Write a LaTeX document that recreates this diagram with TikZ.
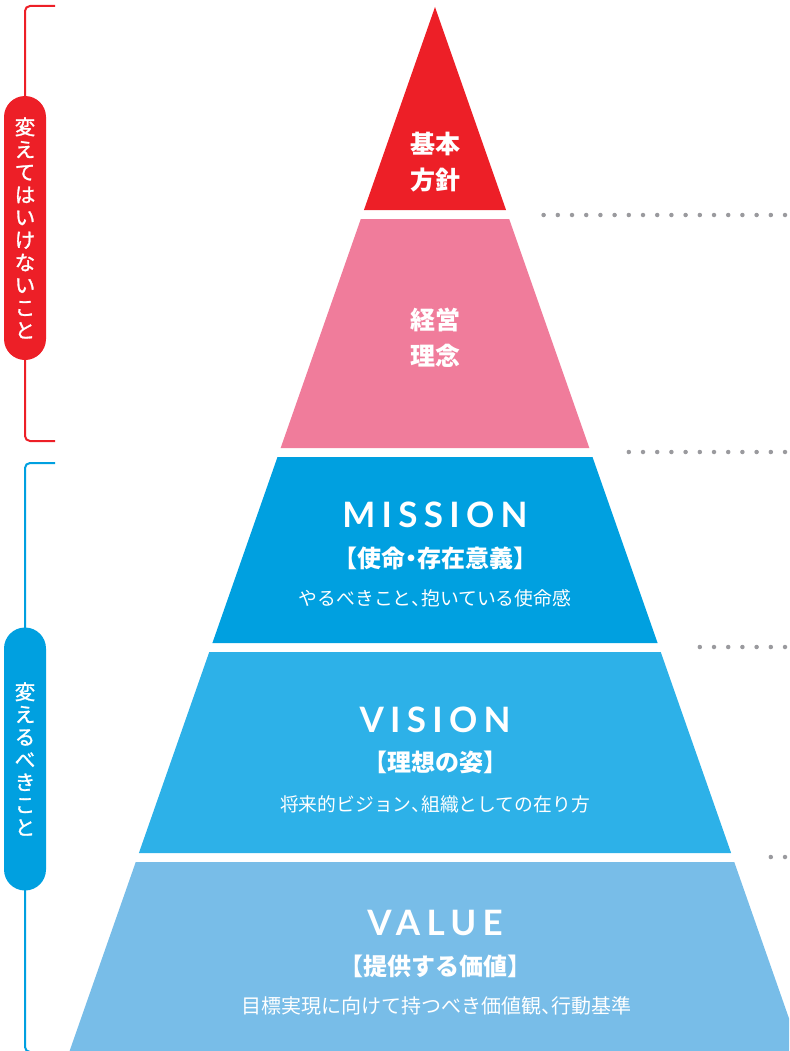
\documentclass[tikz,border=0pt]{standalone}
\usepackage{fontspec}
\newfontfamily\jpfont{Noto Sans CJK JP}
\newfontfamily\jpmidfont[FakeBold=1.3]{Noto Sans CJK JP}
\newfontfamily\capfont[LetterSpace=18]{Lato}
\newcommand\hw[1]{{\addfontfeature{RawFeature=+halt}#1}}
\usetikzlibrary{calc}
\definecolor{kihonred}{HTML}{ED1F27}
\definecolor{keieipink}{HTML}{F07C9B}
\definecolor{missionblue}{HTML}{00A0E0}
\definecolor{visionblue}{HTML}{2DB1E8}
\definecolor{valueblue}{HTML}{78BDE8}
\definecolor{dotgray}{HTML}{9A9A9E}
\tikzset{
  band/.style={fill=#1, draw=none},
  pill/.style={fill=#1, rounded corners=21pt, minimum width=42pt, inner sep=0pt,
    text=white, align=center, font=\jpmidfont\fontsize{20.5}{22.6}\selectfont},
  head/.style={text=white, align=center, inner sep=0pt,
    font=\jpfont\bfseries\fontsize{25}{36}\selectfont},
  title/.style={text=white, anchor=base, inner sep=0pt,
    font=\capfont\bfseries\fontsize{35}{35}\selectfont},
  kakko/.style={text=white, inner sep=0pt, font=\jpfont\bfseries\fontsize{24}{24}\selectfont},
  note/.style={text=white, inner sep=0pt, font=\jpfont\fontsize{18.8}{18.8}\selectfont},
  guide/.style={draw=dotgray, line width=4.5pt, line cap=round, dash pattern=on 0pt off 14.2pt},
  brace/.style={draw=#1, line width=2pt, rounded corners=5pt},
}
\begin{document}
\begin{tikzpicture}[x=1pt, y=-1pt]
\useasboundingbox (0,0) rectangle (789,1051);
\clip (0,0) rectangle (789,1051);
% pyramid bands (top, bottom, colour)
\foreach \top/\bot/\col in {7/210/kihonred, 219/448/keieipink, 457/643/missionblue,
  652/853/visionblue, 862/1051/valueblue}
  \fill[band=\col] ({435-0.35*(\top-7)},\top) -- ({435+0.35*(\top-7)},\top)
    -- ({435+0.35*(\bot-7)},\bot) -- ({435-0.35*(\bot-7)},\bot) -- cycle;

% texts on the pyramid
\node[head] (kihon) at (435,162) {基本\\方針};
\node[head] (keiei) at (435,338) {経営\\理念};

\node[title] (mission) at (435,527) {MISSION};
\node[kakko] (missionkakko) at (435,558) {【使命\hw{・}存在意義】};
\node[note] (missionnote) at (435,598) {やるべきこと\hw{、}抱いている使命感};

\node[title] (vision) at (435,732) {VISION};
\node[kakko] (visionkakko) at (435,762) {【理想の姿】};
\node[note] (visionnote) at (435,804) {将来的ビジョン\hw{、}組織としての在り方};

\node[title] (value) at (435,935) {VALUE};
\node[kakko] (valuekakko) at (435,966) {【提供する価値】};
\node[note, font=\jpfont\fontsize{20}{20}\selectfont] (valuenote) at (436,1006)
  {目標実現に向けて持つべき価値観\hw{、}行動基準};

% dotted guides at the gaps
\coordinate (g1) at (785,215);
\coordinate (g2) at (785,452);
\coordinate (g3) at (785,647);
\coordinate (g4) at (785,857);
\draw[guide] (g1) -- ++(-250,0);
\draw[guide] (g2) -- ++(-165,0);
\draw[guide] (g3) -- ++(-93,0);
\draw[guide] (g4) -- ++(-22,0);

% brackets on the left
\draw[brace=kihonred] (55,6) -- (25,6) -- (25,441) -- (55,441);
\draw[brace=missionblue] (55,463) -- (25,463) -- (25,1052) -- (55,1052);
\node[pill=kihonred, minimum height=264pt] (keep) at (25,228)
  {変\\え\\て\\は\\い\\け\\な\\い\\こ\\と};
\node[pill=missionblue, minimum height=263pt] (change) at (25,759)
  {変\\え\\る\\べ\\き\\こ\\と};
\end{tikzpicture}
\end{document}
